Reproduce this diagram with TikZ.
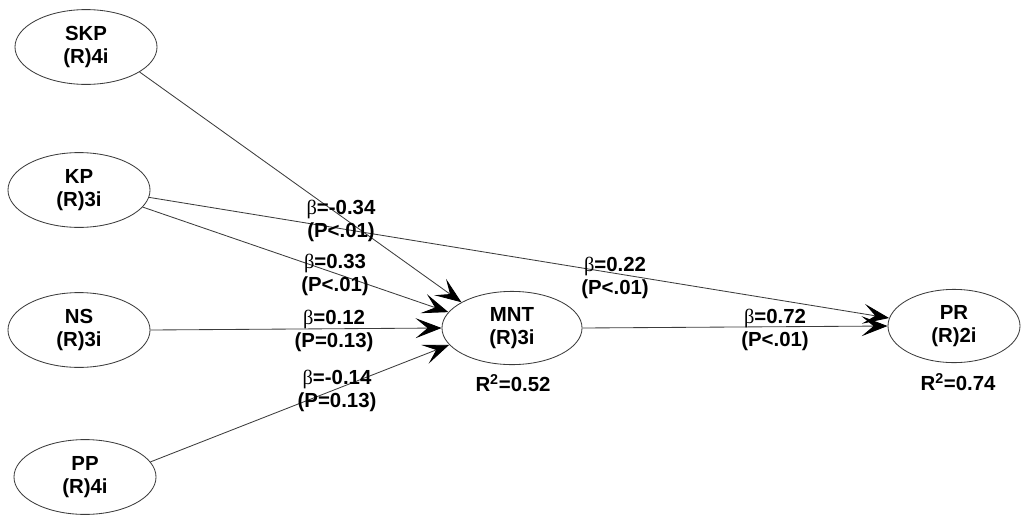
\documentclass[tikz,border=0pt]{standalone}
\usepackage{fontspec}
\setmainfont{Liberation Sans}
\newfontfamily\greekfont{Liberation Serif}
\usetikzlibrary{arrows.meta,shapes.geometric}
\definecolor{pathgray}{RGB}{60,60,60}
\newcommand{\bt}{{\greekfont\mdseries β}}
\tikzset{
  latent var/.style={
    ellipse, draw=pathgray, line width=0.6pt,
    minimum width=3.55cm, minimum height=1.87cm,
    inner sep=0pt, align=center,
    font=\fontsize{14.5}{16.4}\selectfont\bfseries
  },
  path arrow/.style={-{Stealth[length=6.5mm,width=5mm,inset=3mm,color=black]}, line width=0.6pt, pathgray},
  path label/.style={align=center, inner sep=0pt, font=\fontsize{14.5}{16.4}\selectfont\bfseries}
}

\begin{document}
\begin{tikzpicture}[x=0.025cm, y=-0.025cm]
    \useasboundingbox (0,0) rectangle (1022,515);
    % constructs
    \node[latent var] (skp) at (86,47) {SKP\\(R)4i};
    \node[latent var] (kp) at (79,190) {KP\\(R)3i};
    \node[latent var] (ns) at (79,330) {NS\\(R)3i};
    \node[latent var] (pp) at (85,477) {PP\\(R)4i};
    \node[latent var, minimum width=3.5cm, minimum height=1.83cm] (mnt) at (512,328) {MNT\\(R)3i};
    \node[latent var, minimum width=3.3cm, minimum height=1.83cm] (pr) at (954,326) {PR\\(R)2i};
    \node[path label] (mntr) at (513,383) {R\textsuperscript{2}=0.52};
    \node[path label] (prr) at (958,382) {R\textsuperscript{2}=0.74};
    % paths
    \draw[path arrow] (skp.-25) -- (mnt.153);
    \draw[path arrow] (kp.-15) -- (mnt.166);
    \draw[path arrow] (ns.0) -- (mnt.180);
    \draw[path arrow] (pp.13) -- (mnt.195);
    \draw[path arrow] (kp.-6) -- (pr.173);
    \draw[path arrow] (mnt.0) -- (pr.180);
    % coefficients
    \node[path label] (skpmnt) at (341,221) {\bt=-0.34\\(P<.01)};
    \node[path label] (kpmnt) at (335,275) {\bt=0.33\\(P<.01)};
    \node[path label] (nsmnt) at (334,331) {\bt=0.12\\(P=0.13)};
    \node[path label] (ppmnt) at (337,391) {\bt=-0.14\\(P=0.13)};
    \node[path label] (kppr) at (615,278) {\bt=0.22\\(P<.01)};
    \node[path label] (mntpr) at (775,330) {\bt=0.72\\(P<.01)};
  \end{tikzpicture}
\end{document}
